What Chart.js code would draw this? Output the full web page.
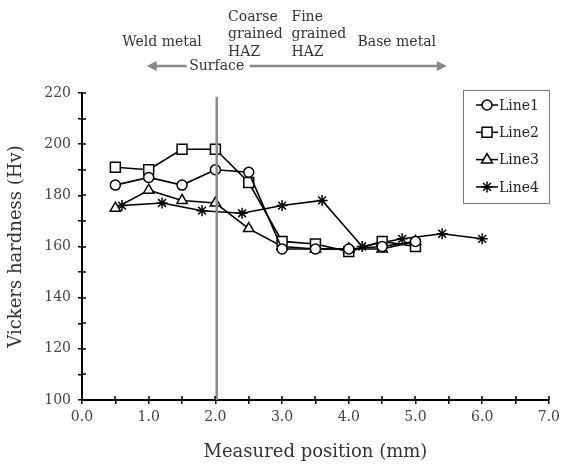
<!DOCTYPE html>
<html>
<head>
<meta charset="utf-8">
<script src="https://cdn.jsdelivr.net/npm/chart.js@4/dist/chart.umd.min.js"></script>
<style>
    html, body { margin: 0; padding: 0; background: #fff; }
    canvas { display: block; }
</style>
</head>
<body>
<canvas id="hardness-chart" width="565" height="464"></canvas>
<script>
// Data
const seriesNames = ['Line1', 'Line2', 'Line3', 'Line4'];
const markerStyles = ['circle', 'rect', 'triangle', 'star'];

const line1X = [0.5, 1.0, 1.5, 2.0, 2.5, 3.0, 3.5, 4.0, 4.5, 5.0];
const line1Y = [184, 187, 184, 190, 189, 159, 159, 159, 160, 162];

const line2X = [0.5, 1.0, 1.5, 2.0, 2.5, 3.0, 3.5, 4.0, 4.5, 5.0];
const line2Y = [191, 190, 198, 198, 185, 162, 161, 158, 162, 160];

const line3X = [0.5, 1.0, 1.5, 2.0, 2.5, 3.0, 3.5, 4.0, 4.5, 5.0];
const line3Y = [175, 182, 178, 177, 167, 160, 159, 159, 159, 162];

const line4X = [0.6, 1.2, 1.8, 2.4, 3.0, 3.6, 4.2, 4.8, 5.4, 6.0];
const line4Y = [176, 177, 174, 173, 176, 178, 160, 163, 165, 163];

// Surface marker (vertical grey line)
const surfaceX = [2.02, 2.02];
const surfaceY = [218.5, 100];

// Zone labels along the top
const zoneLabels = [
    { lines: ['Weld metal'], x: 1.2, align: 'center' },
    { lines: ['Coarse', 'grained', 'HAZ'], x: 2.19, align: 'left' },
    { lines: ['Fine', 'grained', 'HAZ'], x: 3.14, align: 'left' },
    { lines: ['Base metal'], x: 4.72, align: 'center' }
];

const xTickMin = 0, xTickMax = 7, xStep = 0.5;
const yTickMin = 100, yTickMax = 220, yStep = 10;

const FONT = '"DejaVu Serif", "Liberation Serif", serif';

function toPoints(xs, ys) {
    return xs.map((x, i) => ({ x: x, y: ys[i] }));
}

// Draw a marker by hand (used in the legend)
function drawMarker(ctx, style, x, y) {
    ctx.save();
    ctx.fillStyle = '#fff';
    ctx.strokeStyle = '#000';
    ctx.lineWidth = 1.5;
    ctx.beginPath();
    if (style === 'circle') {
        ctx.arc(x, y, 5, 0, Math.PI * 2);
        ctx.fill();
        ctx.stroke();
    } else if (style === 'rect') {
        ctx.rect(x - 5, y - 5, 10, 10);
        ctx.fill();
        ctx.stroke();
    } else if (style === 'triangle') {
        ctx.moveTo(x, y - 6);
        ctx.lineTo(x + 5.5, y + 3.5);
        ctx.lineTo(x - 5.5, y + 3.5);
        ctx.closePath();
        ctx.fill();
        ctx.stroke();
    } else {
        const r = 5.5;
        ctx.moveTo(x - r, y); ctx.lineTo(x + r, y);
        ctx.moveTo(x, y - r); ctx.lineTo(x, y + r);
        const d = r * Math.SQRT1_2;
        ctx.moveTo(x - d, y - d); ctx.lineTo(x + d, y + d);
        ctx.moveTo(x - d, y + d); ctx.lineTo(x + d, y - d);
        ctx.stroke();
    }
    ctx.restore();
}

// Ticks that cross the axis: draw the inner half
const innerTicks = {
    id: 'innerTicks',
    afterDraw(chart) {
        const ctx = chart.ctx;
        const xs = chart.scales.x, ys = chart.scales.y;
        ctx.save();
        ctx.strokeStyle = '#000';
        ctx.lineWidth = 1.5;
        ctx.beginPath();
        for (let v = xTickMin; v <= xTickMax + 1e-9; v += xStep) {
            const px = Math.round(xs.getPixelForValue(v));
            ctx.moveTo(px, ys.bottom);
            ctx.lineTo(px, ys.bottom - 4);
        }
        for (let v = yTickMin; v <= yTickMax + 1e-9; v += yStep) {
            const py = Math.round(ys.getPixelForValue(v));
            ctx.moveTo(xs.left, py);
            ctx.lineTo(xs.left + 4, py);
        }
        ctx.stroke();
        ctx.restore();
    }
};

// Zone labels, "Surface" and arrows above the plot
const zoneAnnotations = {
    id: 'zoneAnnotations',
    afterDraw(chart) {
        const ctx = chart.ctx;
        const xs = chart.scales.x;
        ctx.save();
        ctx.font = '14px ' + FONT;
        ctx.fillStyle = '#333';
        ctx.textBaseline = 'middle';

        zoneLabels.forEach(z => {
            ctx.textAlign = z.align;
            const px = xs.getPixelForValue(z.x);
            const startY = z.lines.length === 1 ? 42 : 17;
            z.lines.forEach((t, i) => ctx.fillText(t, px, startY + i * 17.5));
        });

        // Surface label and arrows
        const sx = xs.getPixelForValue(2.02);
        ctx.textAlign = 'center';
        ctx.fillText('Surface', sx, 66);

        const arrowY = 66;
        const leftEnd = xs.getPixelForValue(0.97);
        const rightEnd = xs.getPixelForValue(5.47);
        ctx.strokeStyle = '#888';
        ctx.fillStyle = '#888';
        ctx.lineWidth = 2.5;
        ctx.beginPath();
        ctx.moveTo(sx - 30, arrowY);
        ctx.lineTo(leftEnd + 6, arrowY);
        ctx.moveTo(sx + 33, arrowY);
        ctx.lineTo(rightEnd - 6, arrowY);
        ctx.stroke();

        ctx.beginPath();
        ctx.moveTo(leftEnd, arrowY);
        ctx.lineTo(leftEnd + 10, arrowY - 5);
        ctx.lineTo(leftEnd + 10, arrowY + 5);
        ctx.closePath();
        ctx.moveTo(rightEnd, arrowY);
        ctx.lineTo(rightEnd - 10, arrowY - 5);
        ctx.lineTo(rightEnd - 10, arrowY + 5);
        ctx.closePath();
        ctx.fill();
        ctx.restore();
    }
};

// Legend box with line + marker
const boxLegend = {
    id: 'boxLegend',
    afterDraw(chart) {
        const ctx = chart.ctx;
        const left = 463, top = 90, width = 86, height = 113;
        ctx.save();
        ctx.fillStyle = '#fff';
        ctx.fillRect(left, top, width, height);
        ctx.strokeStyle = '#777';
        ctx.lineWidth = 1;
        ctx.strokeRect(left + 0.5, top + 0.5, width, height);

        ctx.font = '14px ' + FONT;
        ctx.textAlign = 'left';
        ctx.textBaseline = 'middle';
        seriesNames.forEach((name, i) => {
            const y = top + 15 + i * 27.3;
            ctx.strokeStyle = '#000';
            ctx.lineWidth = 1.5;
            ctx.beginPath();
            ctx.moveTo(left + 13, y);
            ctx.lineTo(left + 35, y);
            ctx.stroke();
            drawMarker(ctx, markerStyles[i], left + 24, y);
            ctx.fillStyle = '#222';
            ctx.fillText(name, left + 36, y + 1);
        });
        ctx.restore();
    }
};

function seriesDataset(label, xs, ys, style, radius) {
    return {
        label: label,
        data: toPoints(xs, ys),
        borderColor: '#000',
        borderWidth: 1.6,
        pointStyle: style,
        pointRadius: radius,
        pointBorderWidth: 1.5,
        pointBorderColor: '#000',
        pointBackgroundColor: '#fff',
        tension: 0,
        fill: false
    };
}

const ctx = document.getElementById('hardness-chart').getContext('2d');
const hardnessChart = new Chart(ctx, {
    type: 'line',
    data: {
        datasets: [
            {
                label: 'Surface',
                data: toPoints(surfaceX, surfaceY),
                borderColor: '#8c8c8c',
                borderWidth: 2.5,
                pointRadius: 0,
                fill: false
            },
            seriesDataset(seriesNames[0], line1X, line1Y, markerStyles[0], 5),
            seriesDataset(seriesNames[1], line2X, line2Y, markerStyles[1], 7),
            seriesDataset(seriesNames[2], line3X, line3Y, markerStyles[2], 6),
            seriesDataset(seriesNames[3], line4X, line4Y, markerStyles[3], 5.5)
        ]
    },
    options: {
        responsive: false,
        animation: false,
        layout: { padding: { top: 93, right: 12, left: 0, bottom: 0 } },
        plugins: {
            legend: { display: false },
            tooltip: { enabled: false }
        },
        scales: {
            x: {
                type: 'linear',
                min: xTickMin,
                max: xTickMax,
                afterFit: scale => { scale.height = 64; },
                border: { color: '#000', width: 2 },
                grid: { drawOnChartArea: false, drawTicks: true, tickLength: 4, color: '#000', lineWidth: 1.5 },
                ticks: {
                    stepSize: xStep,
                    autoSkip: false,
                    maxRotation: 0,
                    padding: 5,
                    color: '#444',
                    font: { family: FONT, size: 14 },
                    callback: v => (Math.abs(v - Math.round(v)) < 1e-9 ? v.toFixed(1) : '')
                },
                title: {
                    display: true,
                    text: 'Measured position (mm)',
                    color: '#333',
                    font: { family: FONT, size: 18 },
                    padding: { top: 0, bottom: 1 }
                }
            },
            y: {
                type: 'linear',
                min: yTickMin,
                max: yTickMax,
                afterFit: scale => { scale.width = 82; },
                border: { color: '#000', width: 2 },
                grid: { drawOnChartArea: false, drawTicks: true, tickLength: 4, color: '#000', lineWidth: 1.5 },
                ticks: {
                    stepSize: yStep,
                    autoSkip: false,
                    padding: 7,
                    color: '#444',
                    font: { family: FONT, size: 14 },
                    callback: v => (v % 20 === 0 ? String(v) : '')
                },
                title: {
                    display: true,
                    text: 'Vickers hardness (Hv)',
                    color: '#333',
                    font: { family: FONT, size: 18 },
                    padding: { top: 6, bottom: 0 }
                }
            }
        }
    },
    plugins: [innerTicks, zoneAnnotations, boxLegend]
});
</script>
</body>
</html>
